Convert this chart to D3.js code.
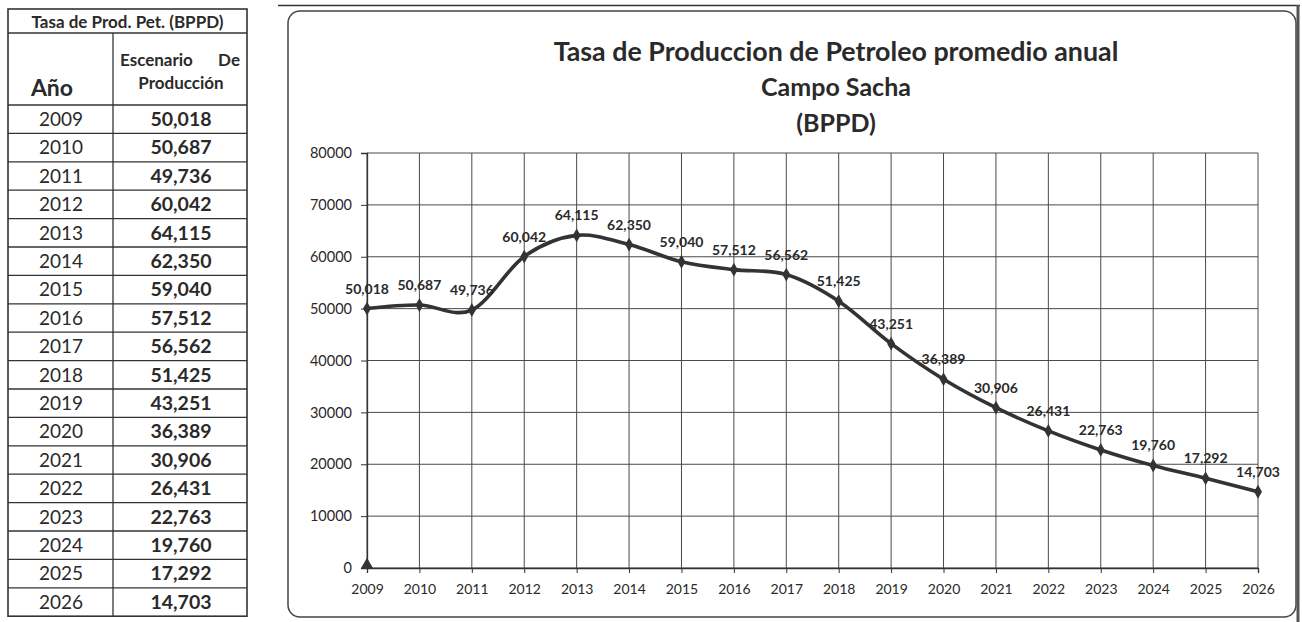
<!DOCTYPE html>
<html>
<head>
<meta charset="utf-8">
<script src="https://cdn.jsdelivr.net/npm/d3@7"></script>
<style>
  html, body { margin: 0; padding: 0; background: #fff; }
  svg { display: block; }
  text { font-family: Lato, "Open Sans", sans-serif; fill: #2a2a2a; }
</style>
</head>
<body>
<svg id="chart" width="1302" height="622"></svg>
<script>
// ---------- data ----------
const years = ["2009","2010","2011","2012","2013","2014","2015","2016","2017","2018","2019","2020","2021","2022","2023","2024","2025","2026"];
const production = [50018, 50687, 49736, 60042, 64115, 62350, 59040, 57512, 56562, 51425, 43251, 36389, 30906, 26431, 22763, 19760, 17292, 14703];
const secondSeriesYears = ["2009"];
const secondSeriesValues = [0];
const yTicks = [0, 10000, 20000, 30000, 40000, 50000, 60000, 70000, 80000];
const titleLines = ["Tasa de Produccion de Petroleo promedio anual", "Campo Sacha", "(BPPD)"];
const tableTitle = "Tasa de Prod. Pet. (BPPD)";
const tableColYear = "Año";
const tableColValueLines = ["Escenario", "De", "Producción"];

const svg = d3.select("#chart");
const fmt = d3.format(",");

// ---------- table ----------
const tbl = { left: 8, mid: 113, right: 247, top: 9, h1: 33, h2: 105, rowH: 28.4 };
const tg = svg.append("g");
const nRows = years.length;
const tblBottom = tbl.h2 + nRows * tbl.rowH;
tg.append("rect").attr("x", tbl.left).attr("y", tbl.top)
  .attr("width", tbl.right - tbl.left).attr("height", tblBottom - tbl.top)
  .attr("fill", "none").attr("stroke", "#333").attr("stroke-width", 1.6);
tg.append("line").attr("x1", tbl.left).attr("x2", tbl.right).attr("y1", tbl.h1).attr("y2", tbl.h1)
  .attr("stroke", "#333").attr("stroke-width", 1.3);
tg.append("line").attr("x1", tbl.mid).attr("x2", tbl.mid).attr("y1", tbl.h1).attr("y2", tblBottom)
  .attr("stroke", "#333").attr("stroke-width", 1.3);
tg.append("text").attr("x", (tbl.left + tbl.right) / 2).attr("y", 28)
  .attr("text-anchor", "middle").attr("font-size", 17).attr("font-weight", 700).text(tableTitle);
tg.append("text").attr("x", 52).attr("y", 96)
  .attr("text-anchor", "middle").attr("font-size", 23).attr("font-weight", 700).text(tableColYear);
tg.append("text").attr("x", 120).attr("y", 66).attr("font-size", 17).attr("font-weight", 700).text(tableColValueLines[0]);
tg.append("text").attr("x", 240).attr("y", 66).attr("text-anchor", "end").attr("font-size", 17).attr("font-weight", 700).text(tableColValueLines[1]);
tg.append("text").attr("x", 181).attr("y", 89).attr("text-anchor", "middle").attr("font-size", 17).attr("font-weight", 700).text(tableColValueLines[2]);

const rows = tg.selectAll("g.row").data(years.map((y, i) => ({ y, v: production[i], i })))
  .join("g").attr("class", "row");
rows.append("line")
  .attr("x1", tbl.left).attr("x2", tbl.right)
  .attr("y1", d => tbl.h2 + d.i * tbl.rowH).attr("y2", d => tbl.h2 + d.i * tbl.rowH)
  .attr("stroke", "#333").attr("stroke-width", 1.3);
rows.append("text").attr("x", 61).attr("y", d => tbl.h2 + d.i * tbl.rowH + 21)
  .attr("text-anchor", "middle").attr("font-size", 19).text(d => d.y);
rows.append("text").attr("x", 181).attr("y", d => tbl.h2 + d.i * tbl.rowH + 21)
  .attr("text-anchor", "middle").attr("font-size", 19.5).attr("font-weight", 700).text(d => fmt(d.v));

// ---------- chart frame ----------
svg.append("line").attr("x1", 278).attr("x2", 1300).attr("y1", 5.5).attr("y2", 5.5)
  .attr("stroke", "#333").attr("stroke-width", 1.5);
svg.append("rect").attr("x", 288).attr("y", 11).attr("width", 1008).attr("height", 606)
  .attr("rx", 12).attr("ry", 12).attr("fill", "none").attr("stroke", "#444").attr("stroke-width", 1.5);
svg.append("line").attr("x1", 1298).attr("x2", 1298).attr("y1", 5).attr("y2", 622)
  .attr("stroke", "#555").attr("stroke-width", 3);

// ---------- title ----------
const tt = svg.append("g");
const titleY = [61, 96, 132];
const titleSize = [26.8, 25, 25];
tt.selectAll("text").data(titleLines).join("text")
  .attr("x", 836).attr("y", (d, i) => titleY[i])
  .attr("text-anchor", "middle").attr("font-size", (d, i) => titleSize[i]).attr("font-weight", 700)
  .attr("fill", "#333").text(d => d);

// ---------- plot ----------
const plot = { left: 367, right: 1258, top: 153, bottom: 568 };
const x = d3.scalePoint().domain(years).range([plot.left, plot.right]);
const y = d3.scaleLinear().domain([0, 80000]).range([plot.bottom, plot.top]);
const grid = "#4a4a4a";

svg.append("g").selectAll("line").data(yTicks).join("line")
  .attr("x1", plot.left).attr("x2", plot.right)
  .attr("y1", d => y(d)).attr("y2", d => y(d))
  .attr("stroke", grid).attr("stroke-width", 1);
svg.append("g").selectAll("line").data(years).join("line")
  .attr("x1", d => x(d)).attr("x2", d => x(d))
  .attr("y1", plot.top).attr("y2", plot.bottom)
  .attr("stroke", grid).attr("stroke-width", 1);

const yAxis = svg.append("g").attr("transform", `translate(${plot.left},0)`)
  .call(d3.axisLeft(y).tickValues(yTicks).tickSize(6).tickPadding(9).tickFormat(d3.format("d")));
yAxis.select(".domain").attr("stroke", "#333").attr("stroke-width", 1.3);
yAxis.selectAll(".tick line").attr("stroke", "#333");
yAxis.selectAll("text").attr("font-size", 14.5).attr("fill", "#333").attr("font-family", "Lato, sans-serif");

const xAxis = svg.append("g").attr("transform", `translate(0,${plot.bottom})`)
  .call(d3.axisBottom(x).tickSize(5).tickPadding(11));
xAxis.select(".domain").attr("stroke", "#333").attr("stroke-width", 1.3);
xAxis.selectAll(".tick line").attr("stroke", "#333");
xAxis.selectAll("text").attr("font-size", 14).attr("fill", "#333").attr("font-family", "Lato, sans-serif");

const pts = years.map((yr, i) => ({ yr, v: production[i] }));
const line = d3.line().x(d => x(d.yr)).y(d => y(d.v)).curve(d3.curveCardinal.tension(0));
svg.append("path").datum(pts).attr("d", line)
  .attr("fill", "none").attr("stroke", "#333").attr("stroke-width", 3.6).attr("stroke-linejoin", "round");

svg.append("g").selectAll("path").data(pts).join("path")
  .attr("transform", d => `translate(${x(d.yr)},${y(d.v)})`)
  .attr("d", d3.symbol(d3.symbolDiamond, 55))
  .attr("fill", "#333");

svg.append("g").selectAll("path").data(secondSeriesYears.map((yr, i) => ({ yr, v: secondSeriesValues[i] })))
  .join("path")
  .attr("transform", d => `translate(${x(d.yr)},${y(d.v) - 3})`)
  .attr("d", d3.symbol(d3.symbolTriangle, 70))
  .attr("fill", "#333");

svg.append("g").selectAll("text").data(pts).join("text")
  .attr("x", d => x(d.yr)).attr("y", d => y(d.v) - 15)
  .attr("text-anchor", "middle").attr("font-size", 14).attr("font-weight", 700)
  .attr("fill", "#333").text(d => fmt(d.v));
</script>
</body>
</html>
